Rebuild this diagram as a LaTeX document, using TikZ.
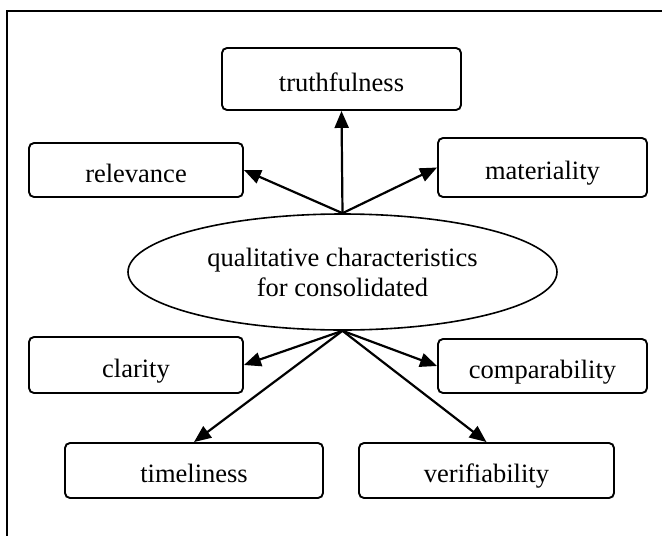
\documentclass[tikz,border=0pt]{standalone}
\usepackage{fontspec}
\setmainfont{Liberation Serif}
\usetikzlibrary{shapes.geometric,arrows.meta}

\begin{document}
\begin{tikzpicture}[x=1pt,y=-1pt,
        every node/.style={font=\fontsize{26.5}{30}\selectfont},
        quality/.style={draw,line width=1.9pt,rounded corners=5pt,inner sep=0pt,
            text height=24pt,text depth=0pt},
        core/.style={draw,ellipse,line width=1.6pt,inner sep=0pt,align=center,
            minimum width=429pt,minimum height=116pt},
        link/.style={line width=2.2pt,-{Triangle[length=17pt,width=14pt]}}]
        \useasboundingbox (0,0) rectangle (662,536);
        \draw[line width=2pt] (662,11) -- (7,11) -- (7,536);
        \node[core](q) at (342.5,272) {qualitative characteristics\\for consolidated};
        \node[quality,minimum width=239pt,minimum height=62pt](truth) at (341.5,79) {truthfulness};
        \node[quality,minimum width=214pt,minimum height=54pt](relev) at (136,170) {relevance};
        \node[quality,minimum width=209pt,minimum height=59pt](mater) at (542.5,167.5) {materiality};
        \node[quality,minimum width=214pt,minimum height=56pt](clar) at (136,365) {clarity};
        \node[quality,minimum width=209pt,minimum height=54pt](comp) at (542.5,366) {comparability};
        \node[quality,minimum width=258pt,minimum height=55pt](timel) at (194,470.5) {timeliness};
        \node[quality,minimum width=255pt,minimum height=55pt](verif) at (486.5,470.5) {verifiability};
        \draw[link](q.north)--(truth.south);
        \draw[link](q.north)--(relev.east);
        \draw[link](q.north)--(mater.west);
        \draw[link](q.south)--(clar.east);
        \draw[link](q.south)--(comp.west);
        \draw[link](q.south)--(timel.north);
        \draw[link](q.south)--(verif.north);
        \end{tikzpicture}
\end{document}
